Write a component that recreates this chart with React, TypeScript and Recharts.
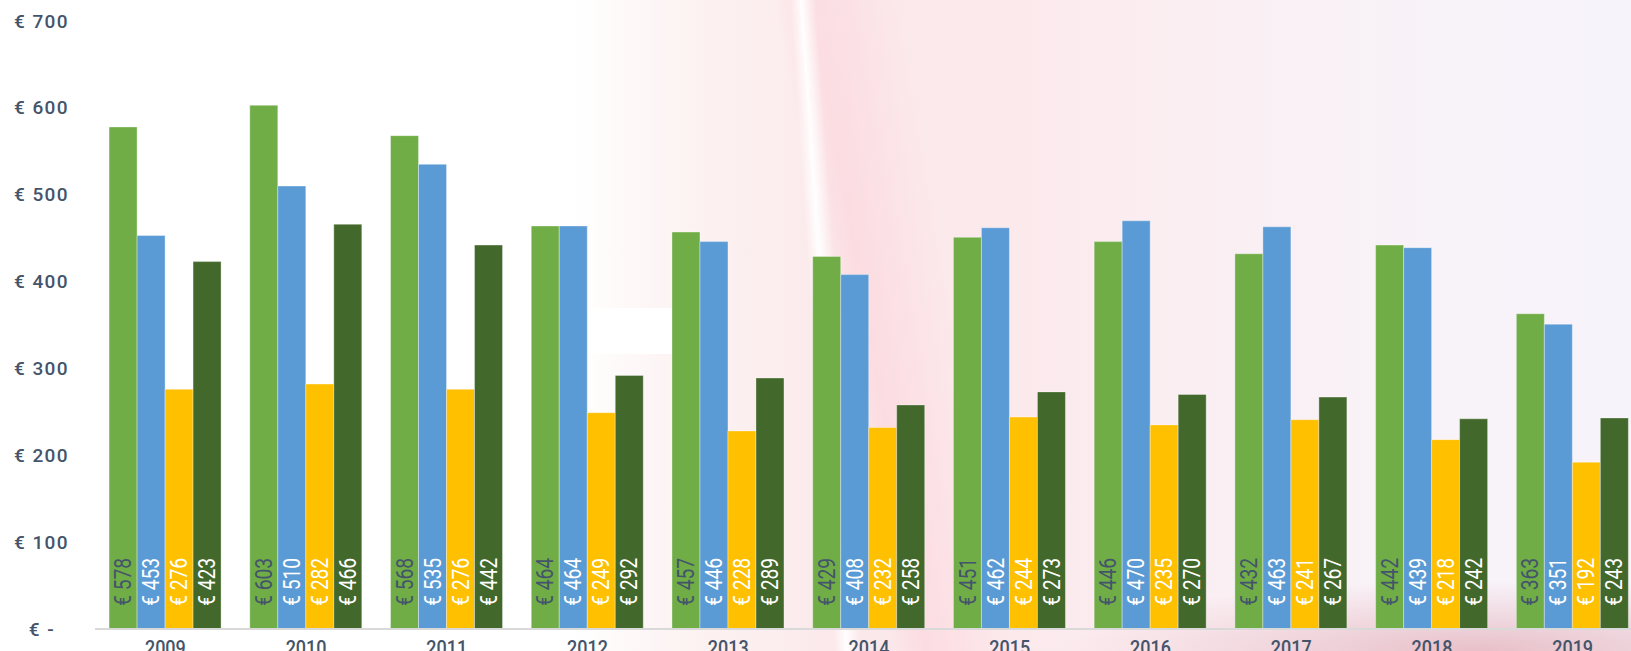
// Yearly cost per person, four groups per year, labels inside bars
import { BarChart, Bar, XAxis, YAxis, LabelList } from "recharts";

const years = ["2009", "2010", "2011", "2012", "2013", "2014", "2015", "2016", "2017", "2018", "2019"];
const seriesA = [578, 603, 568, 464, 457, 429, 451, 446, 432, 442, 363];
const seriesB = [453, 510, 535, 464, 446, 408, 462, 470, 463, 439, 351];
const seriesC = [276, 282, 276, 249, 228, 232, 244, 235, 241, 218, 192];
const seriesD = [423, 466, 442, 292, 289, 258, 273, 270, 267, 242, 243];
const yTicks = [0, 100, 200, 300, 400, 500, 600, 700];

const data = years.map((y, i) => ({
  year: y,
  a: seriesA[i],
  b: seriesB[i],
  c: seriesC[i],
  d: seriesD[i],
}));

const TEXT = "#44546A";
const FONT = "Roboto, sans-serif";

// rotated label sitting near the foot of each bar, squeezed to look condensed
const barLabel = (color: string) => (props: any) => {
  const { x, y, width, height, value } = props;
  const cx = x + width / 2;
  const by = y + height - 23;
  return (
    <text
      x={0}
      y={0}
      transform={`translate(${cx} ${by}) rotate(-90) scale(0.84 1)`}
      textAnchor="start"
      dominantBaseline="central"
      fill={color}
      fontSize={23}
      fontFamily={FONT}
    >
      {`€ ${value}`}
    </text>
  );
};

const YTick = (props: any) => {
  const { x, y, payload } = props;
  const zero = payload.value === 0;
  return (
    <text
      x={zero ? x - 14 : x}
      y={y}
      textAnchor="end"
      dominantBaseline="central"
      fill={TEXT}
      fontSize={19}
      fontWeight={500}
      letterSpacing={1.4}
      fontFamily={FONT}
    >
      {zero ? "€ -" : `€ ${payload.value}`}
    </text>
  );
};

const XTick = (props: any) => {
  const { x, y, payload } = props;
  return (
    <text
      x={0}
      y={0}
      transform={`translate(${x} ${y + 18}) scale(0.9 1)`}
      textAnchor="middle"
      fill={TEXT}
      fontSize={20}
      fontWeight={500}
      fontFamily={FONT}
    >
      {payload.value}
    </text>
  );
};

const edge = "rgba(255,255,255,0.35)";

const bg = [
  // soft white streak
  "linear-gradient(86deg, rgba(255,255,255,0) 49.8%, rgba(255,255,255,0.95) 50.5%, rgba(255,255,255,0) 51.4%)",
  // pinker streak right of it
  "linear-gradient(80deg, rgba(251,205,214,0) 51%, rgba(251,205,214,0.45) 53%, rgba(251,205,214,0) 58%)",
  // pink glow bottom right
  "radial-gradient(ellipse 420px 70px at 1480px 651px, rgba(226,170,180,0.7), rgba(226,170,180,0))",
  // base wash
  "linear-gradient(to right, #ffffff 0%, #ffffff 35%, #fdf4f4 41%, #fbe8ea 52%, #fce9ec 62%, #faeff3 75%, #f8f3f9 88%, #f7f3fa 100%)",
].join(", ");

export default function App() {
  return (
    <div
      style={{
        position: "absolute",
        left: 0,
        top: 0,
        width: 1631,
        height: 651,
        overflow: "hidden",
        background: bg,
      }}
    >
      <div
        style={{
          position: "absolute",
          left: 590,
          top: 308,
          width: 82,
          height: 46,
          background: "#ffffff",
        }}
      />
      <div style={{ position: "absolute", left: 0, top: 0 }}>
        <BarChart
          width={1660}
          height={680}
          data={data}
          margin={{ top: 21, right: 17, left: 0, bottom: 0 }}
          barCategoryGap="10%"
          barGap={0}
        >
          <XAxis
            dataKey="year"
            height={51}
            axisLine={{ stroke: "#D9D9D9", strokeWidth: 2 }}
            tickLine={false}
            tick={<XTick />}
            interval={0}
          />
          <YAxis
            width={95}
            domain={[0, 700]}
            ticks={yTicks}
            axisLine={false}
            tickLine={false}
            tick={<YTick />}
            tickMargin={20}
          />
          <Bar dataKey="a" fill="#70AD47" stroke={edge} isAnimationActive={false}>
            <LabelList dataKey="a" content={barLabel(TEXT)} />
          </Bar>
          <Bar dataKey="b" fill="#5B9BD5" stroke={edge} isAnimationActive={false}>
            <LabelList dataKey="b" content={barLabel("#FFFFFF")} />
          </Bar>
          <Bar dataKey="c" fill="#FFC000" stroke={edge} isAnimationActive={false}>
            <LabelList dataKey="c" content={barLabel("#FFFFFF")} />
          </Bar>
          <Bar dataKey="d" fill="#43682B" stroke={edge} isAnimationActive={false}>
            <LabelList dataKey="d" content={barLabel("#FFFFFF")} />
          </Bar>
        </BarChart>
      </div>
    </div>
  );
}
